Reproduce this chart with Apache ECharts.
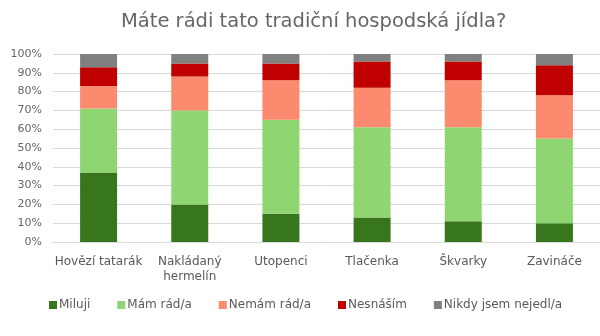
<!DOCTYPE html>
<html>
<head>
<meta charset="utf-8">
<script src="https://cdn.jsdelivr.net/npm/echarts@6/dist/echarts.min.js"></script>
<style>
  html, body { margin: 0; padding: 0; background: #fff; }
  #chart { width: 600px; height: 336px; }
</style>
</head>
<body>
<div id="chart"></div>
<script>
// Survey: share of answers per traditional pub dish (percent, stacked to 100)
const categories = ['Hovězí tatarák', 'Nakládaný\nhermelín', 'Utopenci', 'Tlačenka', 'Škvarky', 'Zavináče'];
const seriesNames = ['Miluji', 'Mám rád/a', 'Nemám rád/a', 'Nesnáším', 'Nikdy jsem nejedl/a'];
const miluji   = [37, 20, 15, 13, 11, 10];
const mamRad   = [34, 50, 50, 48, 50, 45];
const nemamRad = [12, 18, 21, 21, 25, 23];
const nesnasim = [10,  7,  9, 14, 10, 16];
const nikdy    = [ 7,  5,  5,  4,  4,  6];
const yTicks = [0, 10, 20, 30, 40, 50, 60, 70, 80, 90, 100];

const colors = ['#38761d', '#8fd672', '#fb8a6e', '#c00000', '#808080'];
const values = [miluji, mamRad, nemamRad, nesnasim, nikdy];
const fontFamily = '"DejaVu Sans", sans-serif';

const chart = echarts.init(document.getElementById('chart'), null, { renderer: 'canvas' });
chart.setOption({
  animation: false,
  textStyle: { fontFamily: fontFamily },
  title: {
    text: 'Máte rádi tato tradiční hospodská jídla?',
    left: 116,
    top: 7,
    textStyle: { fontFamily: fontFamily, fontSize: 19.5, fontWeight: 'normal', color: '#666666' }
  },
  legend: {
    data: seriesNames,
    top: 294,
    left: 44,
    icon: 'rect',
    itemWidth: 8,
    itemHeight: 8,
    itemGap: 27,
    textStyle: { fontFamily: fontFamily, fontSize: 12, color: '#595959', padding: [0, 0, 0, -3] }
  },
  grid: { left: 53, right: 0, top: 54, bottom: 94, containLabel: false },
  xAxis: {
    type: 'category',
    data: categories,
    axisLine: { lineStyle: { color: '#d9d9d9' } },
    axisTick: { show: false },
    axisLabel: { color: '#595959', fontSize: 12, margin: 12, lineHeight: 15, interval: 0 }
  },
  yAxis: {
    type: 'value',
    min: 0,
    max: 100,
    interval: 10,
    axisLine: { show: false },
    axisTick: { show: false },
    splitLine: { lineStyle: { color: '#d9d9d9', width: 1 } },
    axisLabel: {
      color: '#666666',
      fontSize: 11,
      margin: 11,
      formatter: function (v) { return yTicks.indexOf(v) >= 0 ? v + '%' : ''; }
    }
  },
  series: seriesNames.map(function (name, i) {
    return {
      name: name,
      type: 'bar',
      stack: 'total',
      barWidth: 37,
      data: values[i],
      itemStyle: { color: colors[i] }
    };
  })
});
</script>
</body>
</html>
